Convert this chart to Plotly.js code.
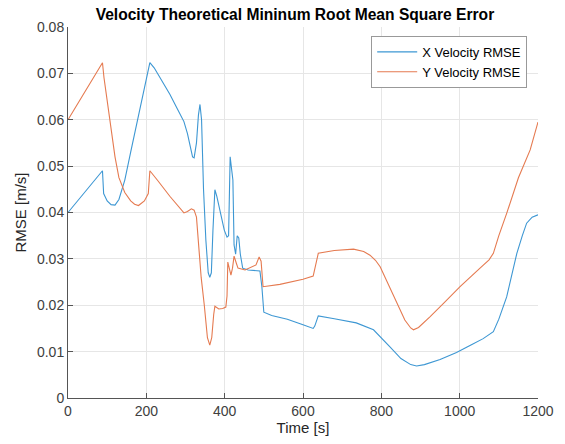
<!DOCTYPE html>
<html>
<head>
<meta charset="utf-8">
<script src="https://cdn.plot.ly/plotly-3.0.1.min.js"></script>
<style>html,body{margin:0;padding:0;background:#fff;}#chart{width:565px;height:444px;}</style>
</head>
<body>
<div id="chart"></div>
<script>
const xTime = [0,88,91,100,110,120,130,145,160,175,190,200,209,220,240,260,280,296,305,312,318,322,328,333,337,341,346,352,358,362,366,370,375,380,390,399,406,410,414,418,421,424,428,432,436,440,446,460,475,490,495,500,520,560,600,626,630,639,680,736,780,800,822,850,875,890,910,950,992,1030,1060,1086,1100,1120,1146,1160,1171,1185,1200];
const xRmse = [0.040,0.049,0.0441,0.0425,0.0417,0.0416,0.0428,0.047,0.053,0.059,0.065,0.069,0.0723,0.0712,0.0685,0.0655,0.0622,0.0596,0.057,0.054,0.052,0.0518,0.055,0.061,0.0633,0.060,0.045,0.034,0.027,0.026,0.027,0.036,0.0449,0.0435,0.040,0.0362,0.0347,0.035,0.052,0.049,0.047,0.033,0.031,0.035,0.0345,0.031,0.028,0.0276,0.0275,0.0274,0.024,0.0185,0.0178,0.017,0.0158,0.015,0.0155,0.0177,0.0171,0.0162,0.0147,0.013,0.011,0.0085,0.0072,0.0069,0.0072,0.0083,0.0098,0.0115,0.0128,0.0143,0.017,0.0218,0.0312,0.035,0.0377,0.039,0.0395];
const yTime = [0,88,92,100,110,120,130,145,160,170,180,195,205,209,230,260,296,305,315,322,328,333,340,348,356,362,367,372,375,385,395,403,406,408,412,416,420,424,430,434,452,480,488,493,498,541,600,626,639,680,729,755,771,785,797,820,839,860,875,882,895,910,924,960,1001,1052,1075,1086,1100,1120,1150,1180,1200];
const yRmse = [0.060,0.0723,0.069,0.064,0.058,0.052,0.0475,0.0443,0.0425,0.0418,0.0415,0.0425,0.0441,0.049,0.0468,0.0435,0.0399,0.0402,0.0408,0.0405,0.039,0.033,0.026,0.020,0.013,0.0114,0.013,0.018,0.0198,0.0192,0.0193,0.0196,0.022,0.0293,0.028,0.0265,0.028,0.0306,0.029,0.028,0.0276,0.0287,0.0304,0.0295,0.024,0.0245,0.0256,0.0263,0.0312,0.0318,0.0321,0.0316,0.0308,0.0297,0.0283,0.024,0.0204,0.0168,0.0151,0.0147,0.0152,0.0163,0.0175,0.0205,0.024,0.028,0.0298,0.0312,0.035,0.0398,0.0475,0.0535,0.0595];
const xTicks = [0,200,400,600,800,1000,1200];
const yTicks = [0,0.01,0.02,0.03,0.04,0.05,0.06,0.07,0.08];
const yTickText = ['0','0.01','0.02','0.03','0.04','0.05','0.06','0.07','0.08'];
const seriesNames = ['X Velocity RMSE','Y Velocity RMSE'];

const FONT = 'Liberation Sans, Arial, sans-serif';
const traces = [
  {x: xTime, y: xRmse, name: seriesNames[0], type: 'scatter', mode: 'lines',
   line: {color: '#3d97d3', width: 1.1}},
  {x: yTime, y: yRmse, name: seriesNames[1], type: 'scatter', mode: 'lines',
   line: {color: '#e57a50', width: 1.1}}
];
const axisCommon = {
  showline: true, linecolor: '#555555', linewidth: 1, mirror: false,
  ticks: 'inside', ticklen: 5, tickcolor: '#555555', tickwidth: 1,
  showgrid: true, gridcolor: '#e6e6e6', gridwidth: 1, zeroline: false,
  tickfont: {family: FONT, size: 14, color: '#404040'}
};
const layout = {
  width: 565, height: 444,
  margin: {l: 68, r: 27, t: 27, b: 46},
  paper_bgcolor: '#ffffff', plot_bgcolor: '#ffffff',
  title: {text: '<b>Velocity Theoretical Mininum Root Mean Square Error</b>',
          font: {family: FONT, size: 15.6, color: '#000000'},
          x: 0.522, xanchor: 'center', y: 0.968, yanchor: 'middle'},
  xaxis: Object.assign({}, axisCommon, {
    range: [0, 1200], tickvals: xTicks, ticktext: xTicks.map(String),
    title: {text: 'Time [s]', font: {family: FONT, size: 15, color: '#262626'}, standoff: 2}
  }),
  yaxis: Object.assign({}, axisCommon, {
    range: [0, 0.08], tickvals: yTicks, ticktext: yTickText,
    title: {text: 'RMSE [m/s]', font: {family: FONT, size: 15, color: '#262626'}, standoff: 6}
  }),
  showlegend: true,
  legend: {x: 0.977, y: 0.976, xanchor: 'right', yanchor: 'top',
           bgcolor: '#ffffff', bordercolor: '#999999', borderwidth: 1,
           font: {family: FONT, size: 13, color: '#000000'},
           tracegroupgap: 0, itemwidth: 40}
};
Plotly.newPlot('chart', traces, layout, {displayModeBar: false, staticPlot: true});
</script>
</body>
</html>
